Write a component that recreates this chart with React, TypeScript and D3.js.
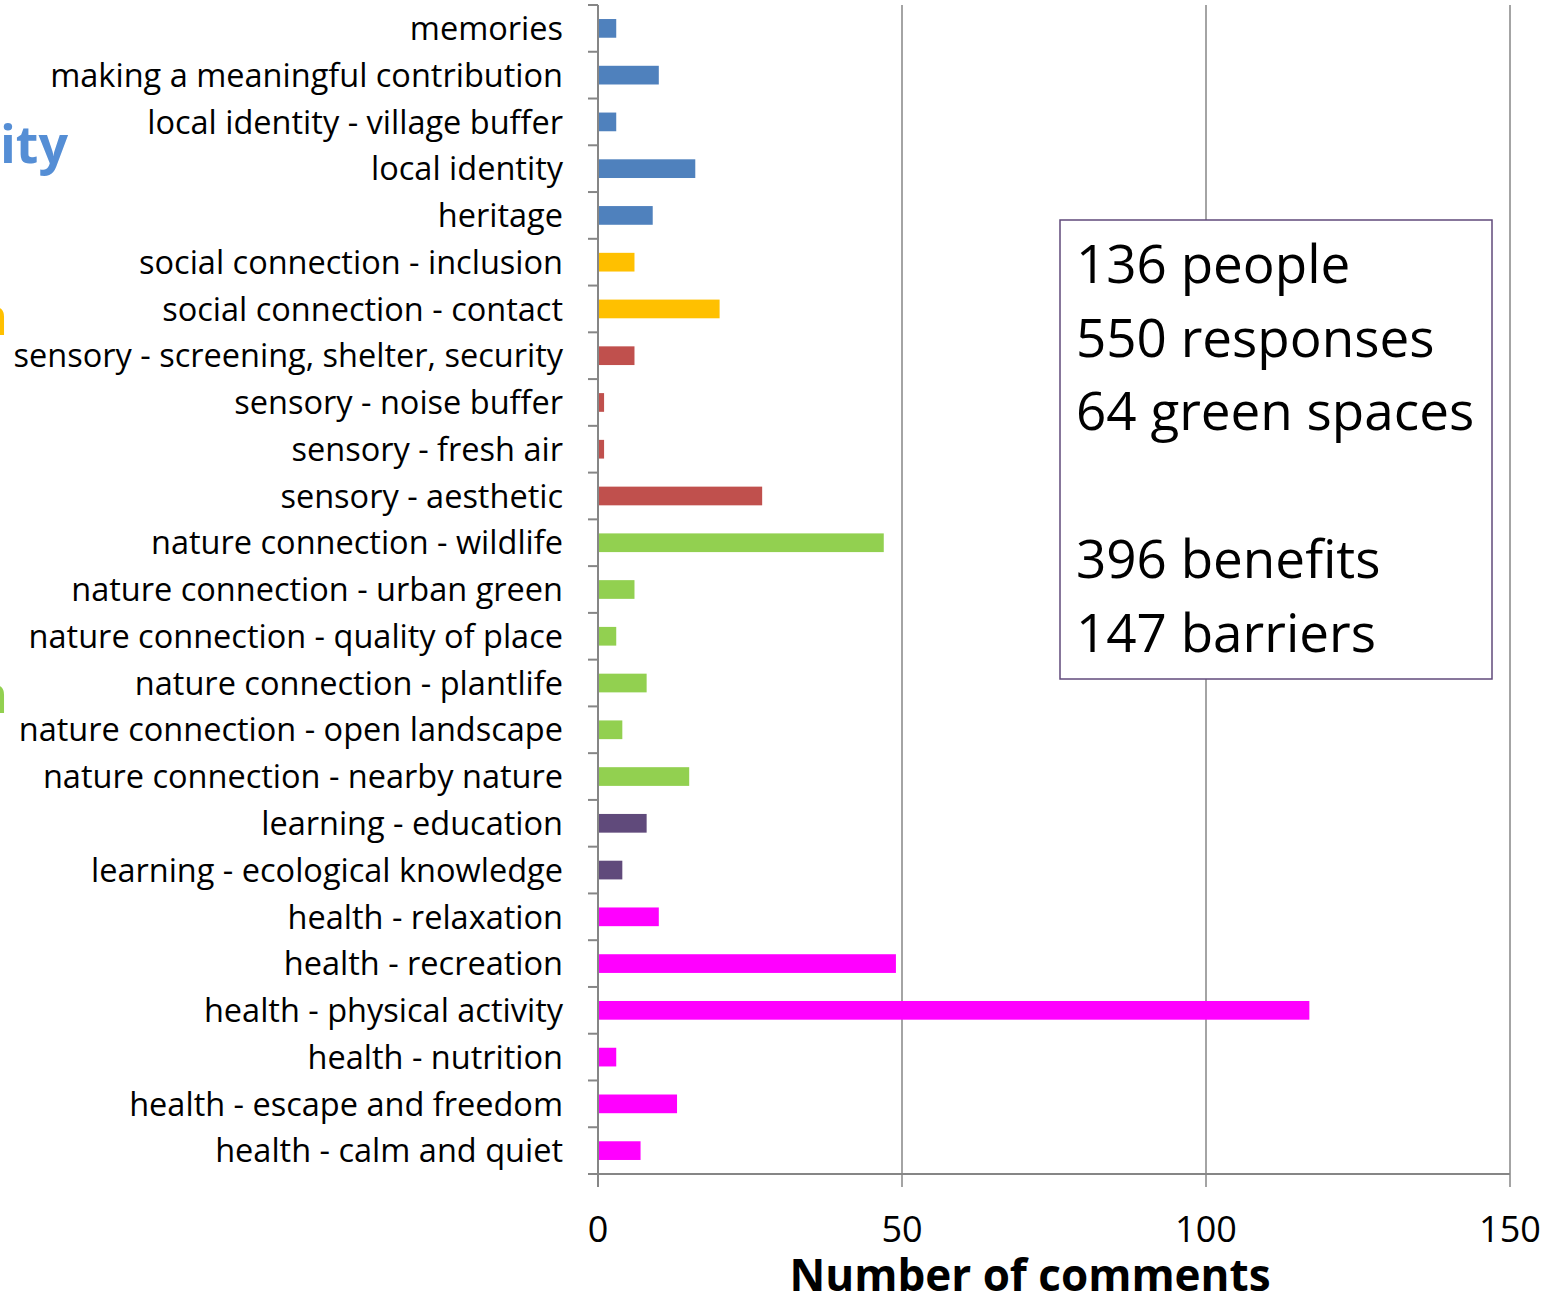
import * as d3 from "d3";

const categories = [
  "memories",
  "making a meaningful contribution",
  "local identity - village buffer",
  "local identity",
  "heritage",
  "social connection - inclusion",
  "social connection - contact",
  "sensory - screening, shelter, security",
  "sensory - noise buffer",
  "sensory - fresh air",
  "sensory - aesthetic",
  "nature connection - wildlife",
  "nature connection - urban green",
  "nature connection - quality of place",
  "nature connection - plantlife",
  "nature connection - open landscape",
  "nature connection - nearby nature",
  "learning - education",
  "learning - ecological knowledge",
  "health - relaxation",
  "health - recreation",
  "health - physical activity",
  "health - nutrition",
  "health - escape and freedom",
  "health - calm and quiet",
];

const comments = [3, 10, 3, 16, 9, 6, 20, 6, 1, 1, 27, 47, 6, 3, 8, 4, 15, 8, 4, 10, 49, 117, 3, 13, 7];

const groups = [
  "identity", "identity", "identity", "identity", "identity",
  "social", "social",
  "sensory", "sensory", "sensory", "sensory",
  "nature", "nature", "nature", "nature", "nature", "nature",
  "learning", "learning",
  "health", "health", "health", "health", "health", "health",
];

const groupColors: Record<string, string> = {
  identity: "#4F81BD",
  social: "#FFC000",
  sensory: "#C0504D",
  nature: "#92D050",
  learning: "#604A7B",
  health: "#FF00FF",
};

const xTicks = [0, 50, 100, 150];

const summaryLines = ["136 people", "550 responses", "64 green spaces", "", "396 benefits", "147 barriers"];

// group headings, mostly cut off at the left edge (as in the original slide)
const headings = [
  { text: "Identity", color: "#558ED5", x: 68, y: 163 },
  { text: "Social connection", color: "#FFC000", x: 8, y: 335 },
  { text: "Nature connection", color: "#92D050", x: 8, y: 713 },
];

export default function App() {
  const width = 1558;
  const height = 1295;
  const left = 598;
  const right = 1510;
  const top = 5;
  const bottom = 1174;
  const font = "'Open Sans', sans-serif";
  const axisColor = "#868686";

  const x = d3.scaleLinear().domain([0, 150]).range([left, right]);
  const y = d3
    .scaleBand<string>()
    .domain(categories)
    .range([top, bottom])
    .paddingInner(0.6)
    .paddingOuter(0.3);
  const step = y.step();
  const bounds = d3.range(categories.length + 1).map((i) => top + i * step);

  return (
    <svg
      width={width}
      height={height}
      style={{ position: "absolute", left: 0, top: 0, background: "#fff" }}
      fontFamily={font}
    >
      {headings.map((h) => (
        <text
          key={h.text}
          x={h.x}
          y={h.y}
          textAnchor="end"
          fontSize={52}
          fontWeight="bold"
          fill={h.color}
        >
          {h.text}
        </text>
      ))}

      {xTicks.slice(1).map((t) => (
        <line key={t} x1={x(t)} x2={x(t)} y1={top} y2={bottom + 13} stroke={axisColor} strokeWidth={1.5} />
      ))}
      <line x1={x(0)} x2={x(0)} y1={bottom} y2={bottom + 13} stroke={axisColor} strokeWidth={2} />

      {categories.map((c, i) => (
        <rect
          key={c}
          x={x(0)}
          y={y(c)}
          width={x(comments[i]) - x(0)}
          height={y.bandwidth()}
          fill={groupColors[groups[i]]}
        />
      ))}

      <line x1={left} x2={left} y1={top} y2={bottom} stroke={axisColor} strokeWidth={2} />
      <line x1={left} x2={right} y1={bottom} y2={bottom} stroke={axisColor} strokeWidth={2} />
      {bounds.map((b, i) => (
        <line key={i} x1={left - 10} x2={left} y1={b} y2={b} stroke={axisColor} strokeWidth={2} />
      ))}

      {categories.map((c) => (
        <text
          key={c}
          x={563}
          y={(y(c) ?? 0) + y.bandwidth() / 2}
          dy="0.36em"
          textAnchor="end"
          fontSize={32.5}
          fill="#000"
        >
          {c}
        </text>
      ))}

      {xTicks.map((t) => (
        <text key={t} x={x(t)} y={1242} textAnchor="middle" fontSize={36} fill="#000">
          {t}
        </text>
      ))}
      <text x={1030} y={1291} textAnchor="middle" fontSize={44} fontWeight="bold" fill="#000">
        Number of comments
      </text>

      <rect x={1060} y={220} width={432} height={459} fill="#fff" stroke="#604A7B" strokeWidth={1.5} />
      {summaryLines.map((s, i) => (
        <text key={i} x={1076} y={283 + i * 73.7} fontSize={53} fill="#000">
          {s}
        </text>
      ))}
    </svg>
  );
}
